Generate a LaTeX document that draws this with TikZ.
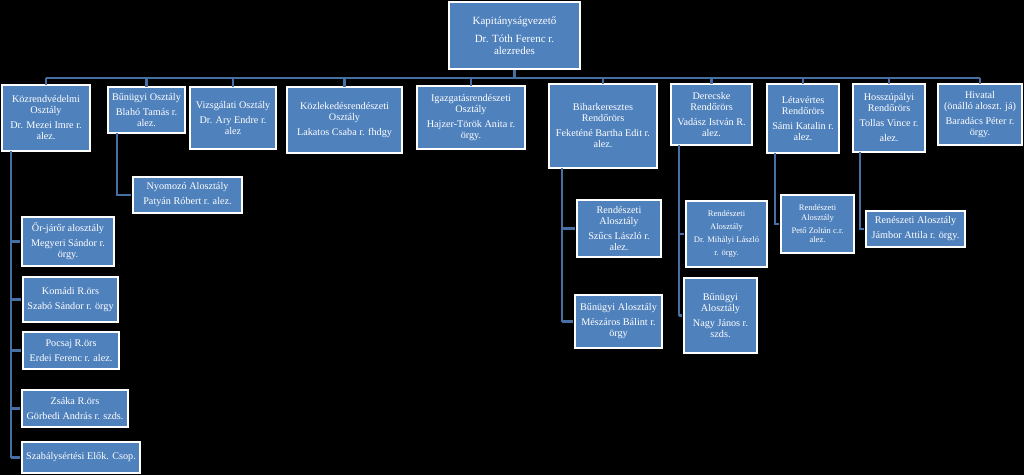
\documentclass[tikz,border=0pt]{standalone}
\usepackage{fontspec}
\setmainfont{Liberation Serif}
\definecolor{boxblue}{RGB}{79,129,189}
\definecolor{linkblue}{RGB}{72,111,165}
\newcommand\pgap{\\[4pt]}
\newcommand\pgapbig{\\[6.5pt]}
\newcommand\pgapsm{\\[3.5pt]}
\begin{document}
\begin{tikzpicture}[x=1pt,y=-1pt,
  orgbox/.style={draw=white,line width=2.5pt,fill=boxblue,text=white,inner sep=0pt,align=center,font=\fontsize{10.2}{11}\selectfont},
  bigtext/.style={font=\fontsize{11}{11.5}\selectfont},
  smalltext/.style={font=\fontsize{8.5}{9.5}\selectfont},
  link/.style={draw=linkblue,line width=2.5pt}]
\fill[black] (0,0) rectangle (1024,475);
\useasboundingbox (0,0) rectangle (1024,475);

\coordinate (busy) at (0,78);
\coordinate (kt) at (11,0);
\coordinate (bt) at (117,0);
\coordinate (ht) at (562,0);
\coordinate (dt) at (679,0);
\coordinate (lt) at (775,0);
\coordinate (pt) at (860,0);

% top box
\node[orgbox,bigtext,minimum width=131,minimum height=67] (top) at (514.5,35.5)
  {Kapitányságvezető\pgapbig Dr. Tóth Ferenc r.\\ alezredes};

% first row
\node[orgbox,minimum width=88,minimum height=66] (kozr) at (46,118)
  {Közrendvédelmi\\ Osztály\pgap Dr. Mezei Imre r.\\ alez.};
\node[orgbox,minimum width=77,minimum height=46] (bun) at (146.5,110)
  {Bűnügyi Osztály\pgap Blahó Tamás r.\\ alez.};
\node[orgbox,minimum width=86,minimum height=62] (vizs) at (233,118)
  {Vizsgálati Osztály\pgap Dr. Ary Endre r.\\ alez};
\node[orgbox,minimum width=115,minimum height=66] (kozl) at (344.5,120)
  {Közlekedésrendészeti\\ Osztály\pgap Lakatos Csaba r. fhdgy};
\node[orgbox,minimum width=108,minimum height=63] (igaz) at (471,117.5)
  {Igazgatásrendészeti\\ Osztály\pgap Hajzer-Török Anita r.\\ örgy.};
\node[orgbox,minimum width=108,minimum height=84] (bihar) at (603,126)
  {Biharkeresztes\\ Rendőrörs\pgap Feketéné Bartha Edit r.\\ alez.};
\node[orgbox,minimum width=81,minimum height=61] (der) at (711.5,114.5)
  {Derecske\\ Rendőrörs\pgap Vadász István R.\\ alez.};
\node[orgbox,minimum width=72,minimum height=69] (leta) at (803,118.5)
  {Létavértes\\ Rendőrörs\pgap Sámi Katalin r.\\ alez.};
\node[orgbox,minimum width=72,minimum height=68] (hossz) at (889,118)
  {Hosszúpályi\\ Rendőrörs\pgap Tollas Vince r.\pgap alez.};
\node[orgbox,minimum width=84,minimum height=61] (hiv) at (980,114.5)
  {Hivatal\\ (önálló aloszt. já)\pgap Baradács Péter r.\\ örgy.};

% sub boxes
\node[orgbox,minimum width=109,minimum height=36] (nyom) at (187.5,195)
  {Nyomozó Alosztály\pgap Patyán Róbert r. alez.};
\node[orgbox,minimum width=92,minimum height=49] (orj) at (68,241.5)
  {Őr-járőr alosztály\pgap Megyeri Sándor r.\\ örgy.};
\node[orgbox,minimum width=95,minimum height=45] (kom) at (70.5,299.5)
  {Komádi R.örs\pgap Szabó Sándor r. örgy};
\node[orgbox,minimum width=96,minimum height=37] (poc) at (71,350.5)
  {Pocsaj R.örs\pgap Erdei Ferenc r. alez.};
\node[orgbox,minimum width=106,minimum height=37] (zsa) at (75,408.5)
  {Zsáka R.örs\pgap Görbedi András r. szds.};
\node[orgbox,minimum width=118,minimum height=31] (szab) at (81,457.5)
  {Szabálysértési Elők. Csop.};
\node[orgbox,minimum width=84,minimum height=57] (rsz) at (619,228.5)
  {Rendészeti\\ Alosztály\pgap Szűcs László r.\\ alez.};
\node[orgbox,minimum width=87,minimum height=53] (bmes) at (618.5,321.5)
  {Bűnügyi Alosztály\pgap Mészáros Bálint r.\\ örgy};
\node[orgbox,smalltext,minimum width=81,minimum height=66] (rmih) at (726.5,234)
  {Rendészeti\pgapsm Alosztály\pgapsm Dr. Mihályi László\pgapsm r. örgy.};
\node[orgbox,minimum width=73,minimum height=75] (bnagy) at (720.5,315.5)
  {Bűnügyi\\ Alosztály\pgap Nagy János r.\\ szds.};
\node[orgbox,smalltext,minimum width=73,minimum height=58] (rpeto) at (817.5,224)
  {Rendészeti\\ Alosztály\pgapsm Pető Zoltán c.r.\\ alez.};
\node[orgbox,minimum width=99,minimum height=36] (rjam) at (915.5,229)
  {Renészeti Alosztály\pgap Jámbor Attila r. örgy.};

% connectors behind boxes
\begin{scope}[on background layer/.try]
\end{scope}
\draw[link] (top.south) -- (top.south |- busy);
\draw[link] (kozr.north |- busy) -- (hiv.north |- busy);
\foreach \n in {kozr,bun,vizs,kozl,igaz,bihar,der,leta,hossz,hiv}{
  \draw[link] (\n.north |- busy) -- ([yshift=-1.25pt]\n.north);
}

% trunks and branches
\draw[link] ([yshift=1.25pt]kozr.south -| kt) -- (kt |- szab.west);
\foreach \n in {orj,kom,poc,zsa,szab}{\draw[link] (kt |- \n.west) -- ([xshift=-1.25pt]\n.west);}
\draw[link] ([yshift=1.25pt]bun.south -| bt) -- (bt |- nyom.west) -- ([xshift=-1.25pt]nyom.west);
\draw[link] ([yshift=1.25pt]bihar.south -| ht) -- (ht |- bmes.west);
\foreach \n in {rsz,bmes}{\draw[link] (ht |- \n.west) -- ([xshift=-1.25pt]\n.west);}
\draw[link] ([yshift=1.25pt]der.south -| dt) -- (dt |- bnagy.west);
\foreach \n in {rmih,bnagy}{\draw[link] (dt |- \n.west) -- ([xshift=-1.25pt]\n.west);}
\draw[link] ([yshift=1.25pt]leta.south -| lt) -- (lt |- rpeto.west) -- ([xshift=-1.25pt]rpeto.west);
\draw[link] ([yshift=1.25pt]hossz.south -| pt) -- (pt |- rjam.west) -- ([xshift=-1.25pt]rjam.west);
\end{tikzpicture}
\end{document}
